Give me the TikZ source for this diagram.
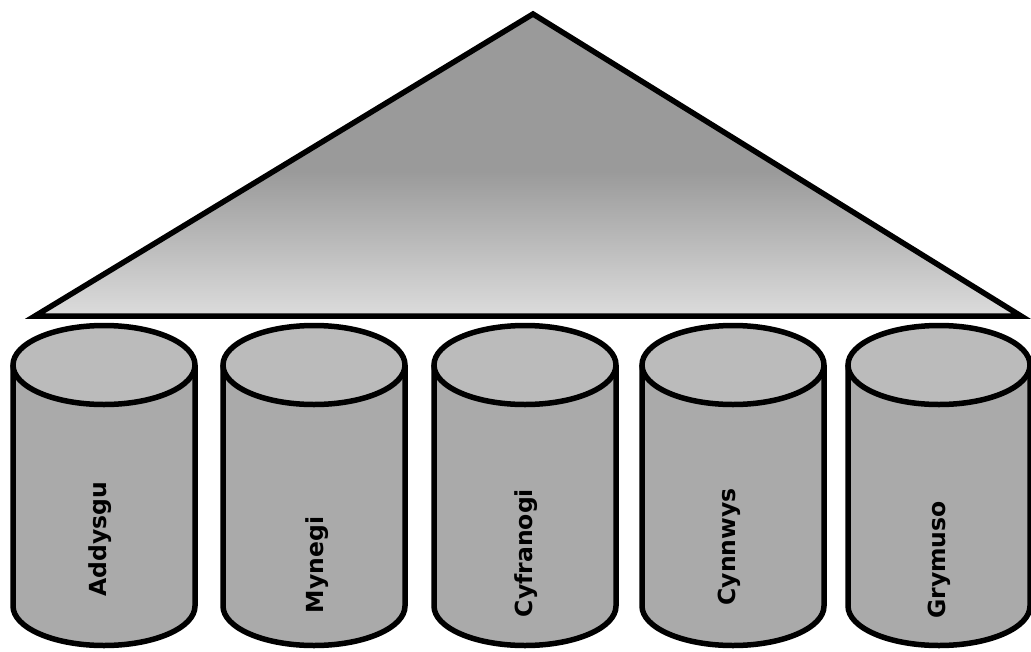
\documentclass[tikz,border=0pt]{standalone}
\usepackage{fontspec}
\setmainfont{DejaVu Sans}
\definecolor{roofdark}{HTML}{9A9A9A}
\definecolor{rooflight}{HTML}{DCDCDC}
\definecolor{pillartop}{HTML}{BBBBBB}
\definecolor{pillarbody}{HTML}{AAAAAA}
\pgfdeclareverticalshading{roofshade}{100bp}{color(0bp)=(rooflight); color(25bp)=(rooflight); color(49bp)=(roofdark); color(100bp)=(roofdark)}
\tikzset{
  outline/.style={draw=black, line width=5.5pt},
  roof/.style={outline, shading=roofshade, line join=miter},
  label/.style={font=\bfseries\fontsize{23.5}{24}\selectfont, rotate=90, anchor=base, inner sep=0pt}
}
% one pillar: centre x, label baseline x, label text, label centre y, node name
\newcommand{\pillar}[5]{%
  \fill[pillarbody] (#1-91,365) -- (#1-91,606) arc[start angle=180, end angle=360, x radius=91, y radius=-39.5] -- (#1+91,365) -- cycle;
  \draw[outline] (#1-91,365) -- (#1-91,606) arc[start angle=180, end angle=360, x radius=91, y radius=-39.5] -- (#1+91,365);
  \draw[outline, fill=pillartop] (#1,365) ellipse[x radius=91, y radius=39.5];
  \node[label] (#5) at (#2,#4) {#3};
}
\begin{document}
\begin{tikzpicture}[x=1pt, y=-1pt]
  \useasboundingbox (0,0) rectangle (1031,651);
  % roof
  \draw[roof] (533,14) -- (1021,316) -- (35,316) -- cycle;
  % pillars
  \pillar{104}{106}{Addysgu}{539}{p1}
  \pillar{314}{323}{Mynegi}{565}{p2}
  \pillar{525}{532}{Cyfranogi}{553}{p3}
  \pillar{733}{735}{Cynnwys}{547}{p4}
  \pillar{939}{945}{Grymuso}{560}{p5}
\end{tikzpicture}
\end{document}
